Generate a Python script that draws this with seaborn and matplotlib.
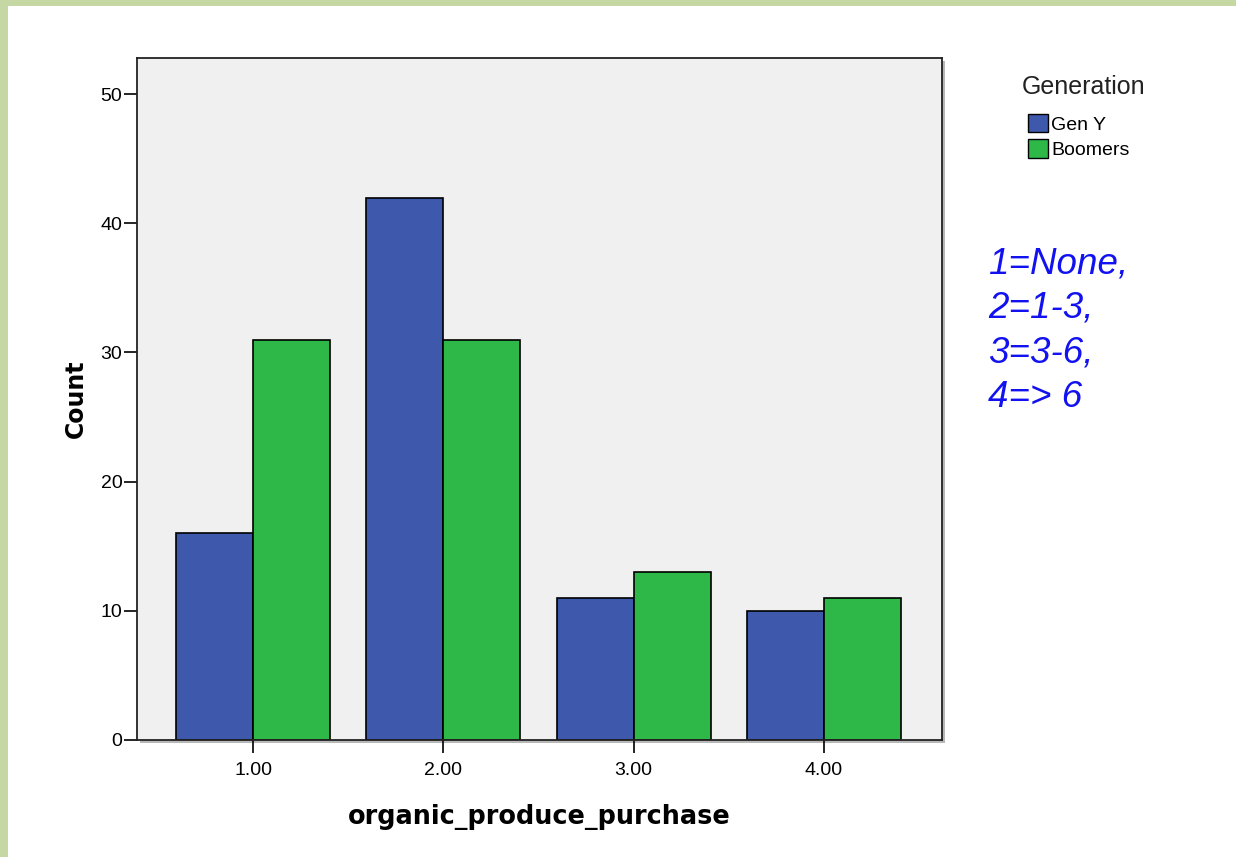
import numpy as np
import pandas as pd
import matplotlib.pyplot as plt
import matplotlib.patches as mpatches
import seaborn as sns

# data
categories = ["1.00", "2.00", "3.00", "4.00"]
gen_y = [16, 42, 11, 10]
boomers = [31, 31, 13, 11]
groups = ["Gen Y", "Boomers"]
colors = ["#3E58AC", "#2EB848"]

W, H = 1236, 857


def main():
    sns.set_style("white")
    plt.rcParams['font.family'] = ['Liberation Sans', 'DejaVu Sans']
    plt.rcParams['text.color'] = 'black'

    df = pd.DataFrame({
        "organic_produce_purchase": categories * 2,
        "Count": gen_y + boomers,
        "Generation": [groups[0]] * 4 + [groups[1]] * 4,
    })

    fig = plt.figure(figsize=(W / 100, H / 100), dpi=100)
    ax = fig.add_axes([137 / W, 1 - 740 / H, (942 - 137) / W, (740 - 58) / H])
    ax.set_facecolor("#F0F0F0")

    # soft shadow of the plot frame
    fig.patches.append(mpatches.Rectangle((140 / W, 1 - 743 / H), (942 - 137) / W, (740 - 58) / H,
                                          transform=fig.transFigure, facecolor="#B8B8B8",
                                          edgecolor="none", zorder=-1))

    sns.barplot(data=df, x="organic_produce_purchase", y="Count", hue="Generation",
                palette=colors, width=0.81, gap=0, edgecolor="black", linewidth=1.2,
                saturation=1, ax=ax, legend=False)

    ax.set_xlim(-0.61, 3.62)
    ax.set_ylim(0, 52.8)
    ax.set_yticks([0, 10, 20, 30, 40, 50])
    ax.tick_params(axis="both", direction="out", length=9.5, width=1.2, labelsize=14,
                   left=True, bottom=True, colors="black")
    ax.tick_params(axis="y", pad=1)
    ax.tick_params(axis="x", pad=6)
    for s in ax.spines.values():
        s.set_color("#222222")
        s.set_linewidth(1.3)

    ax.set_xlabel("organic_produce_purchase", fontsize=18.4, fontweight="bold",
                  family="DejaVu Sans", labelpad=18, color="black")
    ax.set_ylabel("Count", fontsize=17, fontweight="bold",
                  family="DejaVu Sans", labelpad=9, color="black")

    # legend
    fig.text(1022 / W, 1 - 87 / H, "Generation", fontsize=18, color="#222222", va="center")
    handles = [mpatches.Patch(facecolor=c, edgecolor="black", label=g) for c, g in zip(colors, groups)]
    fig.legend(handles=handles, loc="upper left",
               bbox_to_anchor=(1028 / W, 1 - 114 / H), frameon=False, borderpad=0,
               borderaxespad=0, fontsize=14, handlelength=1.05, handleheight=1.05,
               handletextpad=0.15, labelspacing=0.3)

    fig.text(988 / W, 1 - 246 / H, "1=None,\n2=1-3,\n3=3-6,\n4=> 6",
             color="#1212F0", fontsize=26.5, fontstyle="italic", va="top",
             linespacing=1.36)

    # green frame of the screenshot
    fig.patches.append(mpatches.Rectangle((0, 0), 8 / W, 1, transform=fig.transFigure,
                                          facecolor="#C5D8A4", edgecolor="none"))
    fig.patches.append(mpatches.Rectangle((0, 1 - 6 / H), 1, 6 / H, transform=fig.transFigure,
                                          facecolor="#C5D8A4", edgecolor="none"))

    fig.savefig("out.png", dpi=100)


if __name__ == "__main__":
    main()
